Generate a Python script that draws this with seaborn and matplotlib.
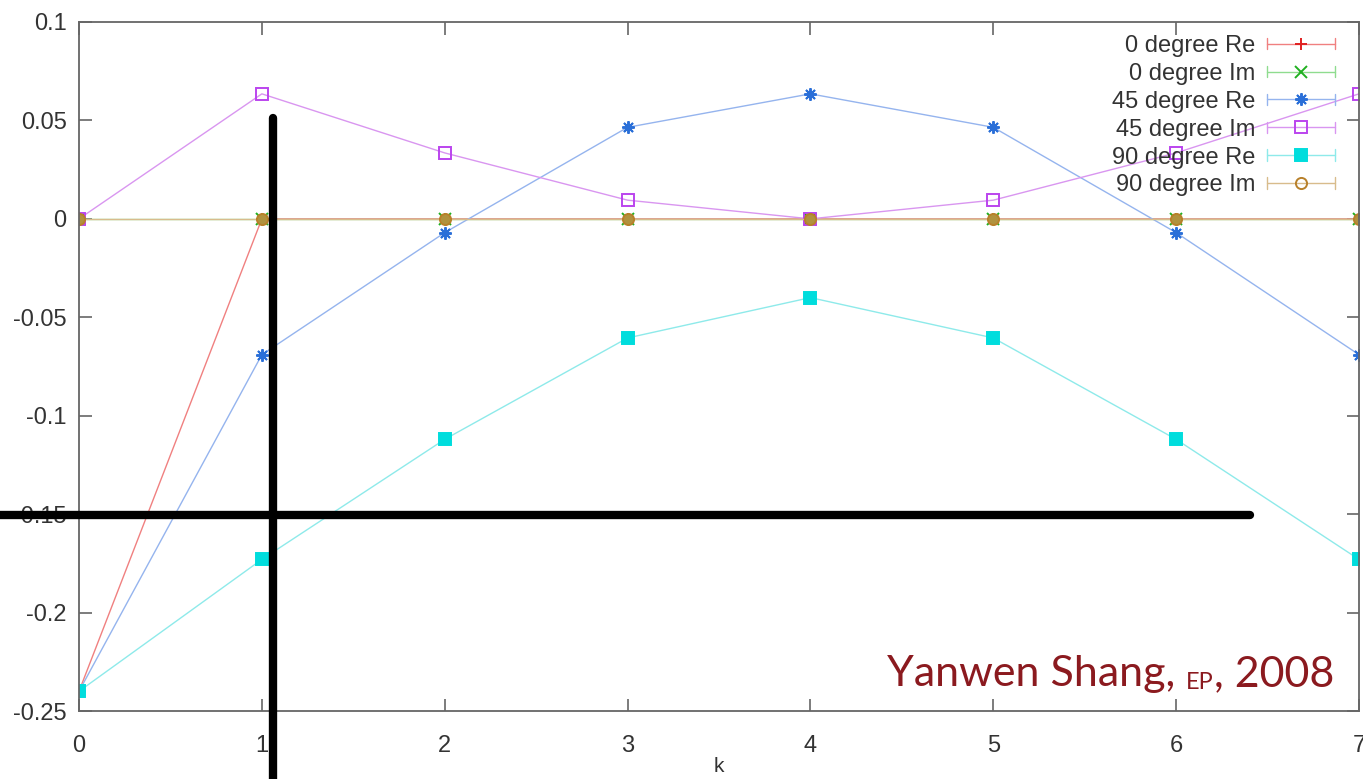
import pandas as pd
import matplotlib.pyplot as plt
import seaborn as sns
from matplotlib.lines import Line2D
from matplotlib.legend_handler import HandlerLine2D

# data
k = [0, 1, 2, 3, 4, 5, 6, 7]
re_0 = [-0.24, 0, 0, 0, 0, 0, 0, 0]
im_0 = [0, 0, 0, 0, 0, 0, 0, 0]
re_45 = [-0.24, -0.069, -0.007, 0.0465, 0.0635, 0.0465, -0.007, -0.069]
im_45 = [0, 0.0635, 0.0335, 0.0095, 0, 0.0095, 0.0335, 0.0635]
re_90 = [-0.24, -0.173, -0.112, -0.0605, -0.040, -0.0605, -0.112, -0.173]
im_90 = [0, 0, 0, 0, 0, 0, 0, 0]

labels = ['0 degree Re', '0 degree Im', '45 degree Re', '45 degree Im', '90 degree Re', '90 degree Im']
series = [re_0, im_0, re_45, im_45, re_90, im_90]
line_colors = ['#f08080', '#8fdc8f', '#95b4ee', '#d996f0', '#8eeaea', '#d8bc8c']
mark_colors = ['#e02020', '#20b020', '#2a6fd8', '#bb44ee', '#00dddd', '#b8802a']
markers = ['+', 'x', (8, 2, 0), 's', 's', 'o']
filled = [True, True, True, False, True, False]

sns.set_style('ticks')
plt.rcParams['font.family'] = ['Liberation Sans', 'DejaVu Sans']

fig = plt.figure(figsize=(13.63, 7.79), dpi=100)
ax = fig.add_axes([79 / 1363, 68 / 779, 1280 / 1363, 689 / 779])

for name, vals, lc, mc, m, f in zip(labels, series, line_colors, mark_colors, markers, filled):
    df = pd.DataFrame({'k': k, 'v': vals})
    # on the plot the zero-line circles blur into solid olive dots
    face = mc if f else ('#b0923e' if m == 'o' else 'none')
    sns.lineplot(data=df, x='k', y='v', ax=ax, color=lc, lw=1.0,
                 marker=m, markersize=8 if m in ('s', 'o') else 9, markeredgewidth=1.4,
                 markeredgecolor=mc, markerfacecolor=face)

ax.set_xlim(0, 7)
ax.set_ylim(-0.25, 0.1)
ax.set_xticks(k)
ax.set_yticks([-0.25, -0.2, -0.15, -0.1, -0.05, 0, 0.05, 0.1])
ax.set_yticklabels(['-0.25', '-0.2', '-0.15', '-0.1', '-0.05', '0', '0.05', '0.1'])
ax.tick_params(direction='in', top=True, right=True, length=9, width=1.2,
               color='#666666', labelsize=17, labelcolor='#333333')
ax.tick_params(axis='x', pad=17)
ax.tick_params(axis='y', pad=9)
for s in ax.spines.values():
    s.set_color('#666666')
    s.set_linewidth(1.3)
ax.set_xlabel('k', fontsize=15, color='#333333', labelpad=0)
ax.set_ylabel('')


class CapHandler(HandlerLine2D):
    def create_artists(self, legend, orig_handle, xdescent, ydescent, width, height, fontsize, trans):
        arts = super().create_artists(legend, orig_handle, xdescent, ydescent, width, height, fontsize, trans)
        yc = height / 2 - ydescent
        caps = []
        for xx in (-xdescent, width - xdescent):
            c = Line2D([xx, xx], [yc - height * 0.35, yc + height * 0.35], color=orig_handle.get_color(), lw=1.0)
            c.set_transform(trans)
            caps.append(c)
        return arts + caps


handles = [Line2D([], [], color=lc, lw=1.0, marker=m, markersize=8 if m in ('s', 'o') else 9,
                  markeredgewidth=1.4, markeredgecolor=mc, markerfacecolor=mc if f else 'none')
           for lc, mc, m, f in zip(line_colors, mark_colors, markers, filled)]
ax.legend(handles, labels, loc='upper right', frameon=False, markerfirst=False, fontsize=17,
          handlelength=2.9, handletextpad=0.5, labelspacing=0.25, borderaxespad=0.0,
          bbox_to_anchor=(0.989, 0.995), labelcolor='#333333', handler_map={Line2D: CapHandler()})

# overlay annotation lines
fig.add_artist(Line2D([273 / 1363, 273 / 1363], [1 - 118 / 779, 0], color='black', lw=6, transform=fig.transFigure))
fig.add_artist(Line2D([0, 1250 / 1363], [1 - 515 / 779, 1 - 515 / 779], color='black', lw=6, transform=fig.transFigure))

# credit text
wm_color = '#8b1a1f'
t1 = fig.text(887 / 1363, 1 - 686 / 779, 'Yanwen Shang, ', fontsize=31, color=wm_color,
              family=['Lato', 'DejaVu Sans'], va='baseline')
t2 = ax.annotate('EP', xy=(1, 0), xycoords=t1, va='bottom', fontsize=17, color=wm_color,
                 family=['Lato', 'DejaVu Sans'])
ax.annotate(', 2008', xy=(1, 0), xycoords=t2, va='bottom', fontsize=31, color=wm_color,
            family=['Lato', 'DejaVu Sans'])

fig.savefig('out.png', dpi=100)
